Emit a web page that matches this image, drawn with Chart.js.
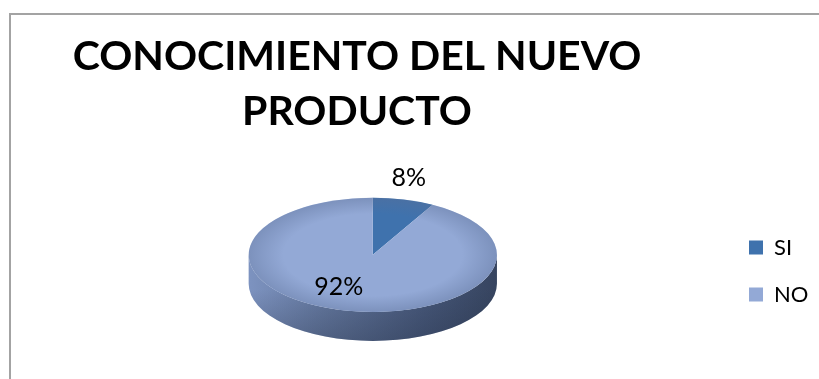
<!DOCTYPE html>
<html>
<head>
<meta charset="utf-8">
<script src="https://cdn.jsdelivr.net/npm/chart.js@4"></script>
<style>
    html, body { margin: 0; padding: 0; background: #fff; }
    #wrap { position: relative; width: 819px; height: 379px; overflow: hidden; }
    #frame { position: absolute; left: 9px; top: 13px; right: -5px; bottom: -5px; border: 2px solid #a3a3a3; border-right: 0; border-bottom: 0; }
    canvas { position: absolute; left: 0; top: 0; }
</style>
</head>
<body>
<div id="wrap">
    <div id="frame"></div>
    <canvas id="grafico" width="819" height="379"></canvas>
</div>
<script>
const categorias = ['SI', 'NO'];
const valores = [8, 92];
const tituloLineas = ['CONOCIMIENTO DEL NUEVO', 'PRODUCTO'];
const colores = ['#3f72ad', '#93a9d6'];

// Aplastamiento de la elipse y grosor del borde lateral
const ESCALA_Y = 57 / 124;
const GROSOR = 29;

function aplastar(ctx, x, y) {
    ctx.translate(x, y);
    ctx.scale(1, ESCALA_Y);
    ctx.translate(-x, -y);
}

const pastel3d = {
    id: 'pastel3d',
    afterLayout(chart) {
        // El titulo se centra a la izquierda del pastel, la leyenda va mas abajo
        const t = chart.titleBlock;
        t.left = 0;
        t.right = 714;
        t.top += 9;
        t.bottom += 9;
        const l = chart.legend;
        const pad = l.options.labels.padding;
        l.left = 749 - pad;
        l.right = l.left + l.width;
        l.top = 271 - l.height / 2;
        l.bottom = l.top + l.height;
    },
    beforeDatasetsDraw(chart) {
        const ctx = chart.ctx;
        const arc = chart.getDatasetMeta(0).data[0];
        const { x, y, outerRadius: r } = arc.getProps(['x', 'y', 'outerRadius'], true);
        const ry = r * ESCALA_Y;

        // Cara lateral del cilindro
        const lado = ctx.createLinearGradient(x - r, 0, x + r, 0);
        lado.addColorStop(0, '#7d93c0');
        lado.addColorStop(0.3, '#64789f');
        lado.addColorStop(0.7, '#47587a');
        lado.addColorStop(1, '#36445f');
        const caida = ctx.createLinearGradient(0, y, 0, y + ry + GROSOR);
        caida.addColorStop(0.4, 'rgba(30,40,60,0)');
        caida.addColorStop(1, 'rgba(30,40,60,0.3)');
        ctx.save();
        ctx.beginPath();
        ctx.ellipse(x, y, r, ry, 0, 0, Math.PI);
        ctx.lineTo(x - r, y);
        ctx.ellipse(x, y + GROSOR, r, ry, 0, Math.PI, 0, true);
        ctx.closePath();
        ctx.fillStyle = lado;
        ctx.fill();
        ctx.fillStyle = caida;
        ctx.fill();
        ctx.restore();

        ctx.save();
        aplastar(ctx, x, y);
    },
    afterDatasetsDraw(chart) {
        const ctx = chart.ctx;
        const meta = chart.getDatasetMeta(0);
        const { x, y, outerRadius: r } = meta.data[0].getProps(['x', 'y', 'outerRadius'], true);

        // Sombreado suave hacia el borde de la tapa
        const sombra = ctx.createRadialGradient(x, y, r * 0.72, x, y, r);
        sombra.addColorStop(0, 'rgba(90,110,150,0)');
        sombra.addColorStop(1, 'rgba(90,110,150,0.4)');
        ctx.fillStyle = sombra;
        ctx.beginPath();
        ctx.arc(x, y, r, 0, Math.PI * 2);
        ctx.fill();
        ctx.restore();

        // Etiquetas de porcentaje, relativas al centro del pastel
        const posiciones = [[36, -77], [-34, 32]];
        const total = valores.reduce((a, b) => a + b, 0);
        ctx.save();
        ctx.fillStyle = '#000';
        ctx.font = '25px Lato';
        ctx.textAlign = 'center';
        ctx.textBaseline = 'middle';
        valores.forEach((v, i) => {
            const texto = Math.round(v / total * 100) + '%';
            ctx.fillText(texto, x + posiciones[i][0], y + posiciones[i][1]);
        });
        ctx.restore();
    }
};

new Chart(document.getElementById('grafico'), {
    type: 'pie',
    data: {
        labels: categorias,
        datasets: [{
            data: valores,
            backgroundColor: colores,
            borderWidth: 0
        }]
    },
    plugins: [pastel3d],
    options: {
        responsive: false,
        animation: false,
        layout: { padding: { left: 21 } },
        plugins: {
            tooltip: { enabled: false },
            title: {
                display: true,
                text: tituloLineas,
                color: '#000',
                font: { family: 'Lato', size: 41, weight: 'bold', lineHeight: 1.35 },
                padding: { top: 20, bottom: 0 }
            },
            legend: {
                position: 'right',
                labels: {
                    boxWidth: 14,
                    boxHeight: 14,
                    padding: 25,
                    color: '#000',
                    font: { family: 'Lato', size: 22 }
                }
            }
        }
    }
});
</script>
</body>
</html>
